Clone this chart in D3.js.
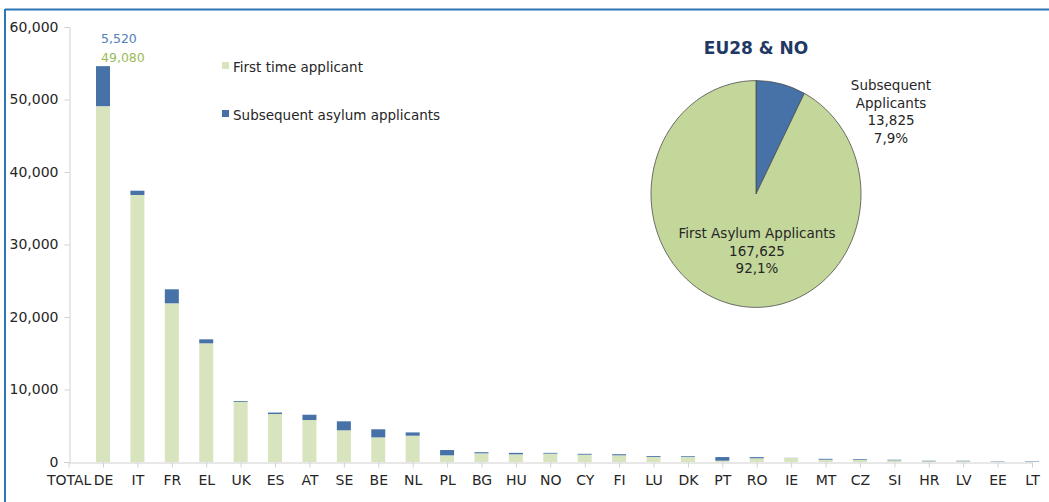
<!DOCTYPE html>
<html>
<head>
<meta charset="utf-8">
<script src="https://cdn.jsdelivr.net/npm/d3@7"></script>
<style>
  body { margin: 0; background: #fff; }
  svg { display: block; font-family: "DejaVu Sans", Verdana, sans-serif; }
</style>
</head>
<body>
<div id="chart"></div>
<script>
// bar chart data
var countries = ["TOTAL","DE","IT","FR","EL","UK","ES","AT","SE","BE","NL","PL","BG","HU","NO","CY","FI","LU","DK","PT","RO","IE","MT","CZ","SI","HR","LV","EE","LT"];
var firstTime = [0,49080,36830,21890,16370,8280,6620,5790,4370,3400,3630,920,1200,1060,1150,1010,920,690,700,180,510,550,320,300,230,100,110,40,30];
var subsequent = [0,5520,590,1930,550,110,200,730,1240,1110,450,730,150,200,110,120,150,120,100,500,160,20,120,100,80,70,60,50,60];
var yTicks = [0,10000,20000,30000,40000,50000,60000];

// pie data
var pieLabels = ["Subsequent Applicants","First Asylum Applicants"];
var pieValues = [13825,167625];
var piePct = ["7,9%","92,1%"];

var W = 1049, H = 502;
var svg = d3.select("#chart").append("svg")
    .attr("width", W)
    .attr("height", H);

// frame
svg.append("line").attr("x1",5).attr("x2",W).attr("y1",9.5).attr("y2",9.5)
    .attr("stroke","#2e75b6").attr("stroke-width",2);
svg.append("line").attr("x1",5).attr("x2",5).attr("y1",9).attr("y2",H)
    .attr("stroke","#2e75b6").attr("stroke-width",2);

var x = d3.scalePoint()
    .domain(countries)
    .range([68.6, 1032]);

var y = d3.scaleLinear()
    .domain([0, 60000])
    .range([462, 27]);

var fmt = d3.format(",");

// y axis
var yAxis = svg.append("g")
    .attr("transform", "translate(69.5,0)")
    .call(d3.axisLeft(y).tickValues(yTicks).tickFormat(fmt).tickSize(5).tickPadding(6));
yAxis.select(".domain").attr("stroke", "#d0d0d0");
yAxis.selectAll(".tick line").attr("stroke", "#d0d0d0");
yAxis.selectAll("text").attr("font-size", 14).attr("fill", "#262626")
    .attr("font-family", "DejaVu Sans, sans-serif");

// bars
var bw = 14;
var g = svg.append("g");
g.selectAll(".first")
  .data(countries)
  .enter().append("rect")
    .attr("x", function(d) { return x(d) - bw/2; })
    .attr("y", function(d,i) { return y(firstTime[i]); })
    .attr("width", bw)
    .attr("height", function(d,i) { return y(0) - y(firstTime[i]); })
    .attr("fill", "#d7e4bd");
g.selectAll(".sub")
  .data(countries)
  .enter().append("rect")
    .attr("x", function(d) { return x(d) - bw/2; })
    .attr("y", function(d,i) { return y(firstTime[i] + subsequent[i]); })
    .attr("width", bw)
    .attr("height", function(d,i) { return y(firstTime[i]) - y(firstTime[i] + subsequent[i]); })
    .attr("fill", "#4672a8");

// x axis
var xAxis = svg.append("g")
    .attr("transform", "translate(0,462.5)")
    .call(d3.axisBottom(x).tickSize(5).tickPadding(8).tickSizeOuter(0));
xAxis.select(".domain").attr("stroke", "#d0d0d0");
xAxis.selectAll(".tick line").attr("stroke", "#d0d0d0");
xAxis.selectAll("text").attr("font-size", 14).attr("fill", "#262626")
    .attr("font-family", "DejaVu Sans, sans-serif");

// DE data labels
svg.append("text")
    .attr("x", x("DE") - 2).attr("y", 43)
    .attr("font-size", 12.5).attr("fill", "#4f81bd")
    .text(fmt(subsequent[1]));
svg.append("text")
    .attr("x", x("DE") - 2).attr("y", 62)
    .attr("font-size", 12.5).attr("fill", "#9bbb59")
    .text(fmt(firstTime[1]));

// legend
var legend = [["First time applicant", "#d7e4bd"], ["Subsequent asylum applicants", "#4672a8"]];
legend.forEach(function(l, i) {
  svg.append("rect").attr("x", 222).attr("y", 62 + i*48).attr("width", 7).attr("height", 7).attr("fill", l[1]);
  svg.append("text").attr("x", 233).attr("y", 72 + i*48)
      .attr("font-size", 13.5).attr("fill", "#262626").text(l[0]);
});

// pie
svg.append("text")
    .attr("x", 756).attr("y", 54)
    .attr("text-anchor", "middle")
    .attr("font-size", 17).attr("font-weight", "bold").attr("fill", "#1f3864")
    .text("EU28 & NO");

var pie = d3.pie().sort(null)(pieValues);
var arc = d3.arc().innerRadius(0).outerRadius(105);
var pg = svg.append("g").attr("transform", "translate(756,194) scale(1,1.08)");
pg.selectAll("path")
  .data(pie)
  .enter().append("path")
    .attr("d", arc)
    .attr("fill", function(d,i) { return i == 0 ? "#4672a8" : "#c4d79b"; })
    .attr("stroke", "#4d4d4d")
    .attr("stroke-width", 0.8)
    .attr("vector-effect", "non-scaling-stroke");

var subLines = ["Subsequent", "Applicants", fmt(pieValues[0]), piePct[0]];
svg.append("text")
    .attr("text-anchor", "middle").attr("font-size", 13.5).attr("fill", "#262626")
  .selectAll("tspan").data(subLines).enter().append("tspan")
    .attr("x", 891).attr("y", function(d,i) { return 90 + i*17.5; })
    .text(function(d) { return d; });

var firstLines = ["First Asylum Applicants", fmt(pieValues[1]), piePct[1]];
svg.append("text")
    .attr("text-anchor", "middle").attr("font-size", 13.5).attr("fill", "#262626")
  .selectAll("tspan").data(firstLines).enter().append("tspan")
    .attr("x", 757).attr("y", function(d,i) { return 238 + i*17.5; })
    .text(function(d) { return d; });
</script>
</body>
</html>
